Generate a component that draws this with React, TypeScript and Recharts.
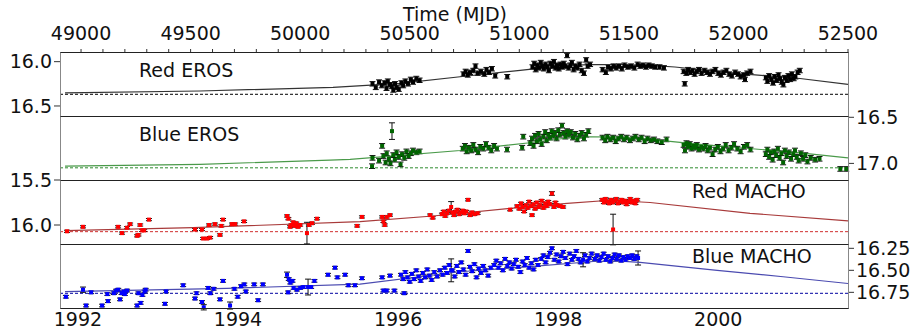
import React from "react";
import { ComposedChart, Scatter, XAxis, YAxis, ReferenceLine, ErrorBar } from "recharts";

// [MJD, magnitude, error?]  error falls back to the series default
type Obs = [number, number, number?];

const MJD_DOMAIN: [number, number] = [48904, 52500];
const MJD_MAJOR = [49000, 49500, 50000, 50500, 51000, 51500, 52000, 52500];
const YEAR_TICKS = [1992, 1994, 1996, 1998, 2000];
const YEAR_1992_MJD = 48986; // where 1992 sits on the lower axis

const RED_EROS: Obs[] = [
  [50330, 16.25], [50345, 16.29], [50360, 16.23], [50372, 16.27], [50385, 16.24], [50394, 16.3],
  [50400, 16.22], [50410, 16.26], [50418, 16.28], [50425, 16.32], [50433, 16.25], [50440, 16.29],
  [50450, 16.31], [50462, 16.24], [50470, 16.27], [50480, 16.22], [50492, 16.25], [50505, 16.2],
  [50515, 16.23], [50530, 16.19], [50545, 16.21],
  [50745, 16.14], [50755, 16.11], [50765, 16.15], [50775, 16.12], [50790, 16.1], [50800, 16.05],
  [50810, 16.13], [50825, 16.11], [50840, 16.14], [50850, 16.09], [50862, 16.12], [50875, 16.08],
  [50890, 16.16], [50945, 16.17],
  [51060, 16.06], [51068, 16.02], [51075, 16.09], [51082, 16.04], [51090, 16.07], [51098, 16.01],
  [51105, 16.05], [51112, 16.08], [51120, 16.03], [51128, 16.06], [51135, 16.1], [51142, 16.02],
  [51150, 16.05], [51158, 16.0], [51165, 16.07], [51172, 16.04], [51180, 16.08], [51188, 16.03],
  [51195, 16.06], [51203, 16.02], [51210, 16.05], [51218, 15.93], [51225, 16.07], [51233, 16.04],
  [51240, 16.01], [51248, 16.09], [51256, 16.05], [51265, 16.07], [51275, 16.03], [51285, 16.1],
  [51295, 16.13], [51305, 15.98], [51312, 16.05], [51323, 16.03],
  [51380, 16.09], [51395, 16.12], [51405, 16.06], [51418, 16.08], [51430, 16.05], [51442, 16.07],
  [51455, 16.05], [51468, 16.08], [51480, 16.04], [51495, 16.06], [51510, 16.05], [51525, 16.07],
  [51540, 16.03], [51552, 16.05], [51565, 16.04], [51578, 16.06], [51590, 16.04], [51605, 16.05],
  [51620, 16.06], [51640, 16.06], [51660, 16.07],
  [51750, 16.11], [51755, 16.25], [51762, 16.13], [51770, 16.09], [51780, 16.12], [51790, 16.1],
  [51800, 16.14], [51810, 16.11], [51820, 16.09], [51832, 16.13], [51845, 16.1], [51857, 16.12],
  [51870, 16.14], [51882, 16.11], [51895, 16.09], [51908, 16.13], [51920, 16.15], [51932, 16.12],
  [51945, 16.1], [51958, 16.14], [51970, 16.16], [51985, 16.12], [51998, 16.14], [52010, 16.17],
  [52025, 16.15], [52030, 16.2], [52040, 16.13], [52055, 16.11],
  [52125, 16.18], [52132, 16.22], [52140, 16.16], [52150, 16.2], [52158, 16.24], [52165, 16.17],
  [52175, 16.21], [52183, 16.15], [52190, 16.19], [52198, 16.23], [52205, 16.26], [52212, 16.18],
  [52220, 16.21], [52228, 16.16], [52236, 16.2], [52244, 16.14], [52252, 16.19], [52260, 16.17],
  [52270, 16.12], [52280, 16.1],
];

const BLUE_EROS: Obs[] = [
  [50330, 16.94], [50328, 17.03], [50374, 16.81], [50360, 16.97], [50380, 16.92], [50390, 16.99],
  [50395, 16.89], [50405, 16.95], [50412, 17.0], [50419, 16.65, 0.09], [50425, 16.91], [50432, 16.96],
  [50440, 16.88], [50450, 16.93], [50458, 17.01], [50465, 16.9], [50475, 16.94], [50485, 16.87],
  [50495, 16.92], [50505, 16.89], [50515, 16.86], [50530, 16.88], [50545, 16.87],
  [50742, 16.84], [50752, 16.81], [50760, 16.87], [50770, 16.83], [50780, 16.86], [50790, 16.8],
  [50800, 16.85], [50812, 16.88], [50822, 16.82], [50835, 16.84], [50848, 16.79], [50860, 16.83],
  [50872, 16.86], [50885, 16.81], [50898, 16.84], [50944, 16.85], [51013, 16.83], [51018, 16.71],
  [51050, 16.78], [51058, 16.73], [51065, 16.81], [51072, 16.7], [51080, 16.76], [51088, 16.68],
  [51095, 16.74], [51102, 16.79], [51110, 16.71], [51118, 16.66], [51125, 16.75], [51132, 16.69],
  [51140, 16.72], [51148, 16.65], [51155, 16.7], [51162, 16.67], [51170, 16.73], [51178, 16.64],
  [51185, 16.69], [51195, 16.59], [51202, 16.67], [51210, 16.71], [51218, 16.65], [51226, 16.69],
  [51235, 16.66], [51245, 16.72], [51255, 16.68], [51265, 16.74], [51275, 16.7], [51285, 16.67],
  [51295, 16.73], [51305, 16.69], [51315, 16.65],
  [51380, 16.72], [51392, 16.75], [51402, 16.71], [51415, 16.74], [51428, 16.72], [51440, 16.76],
  [51452, 16.73], [51465, 16.71], [51478, 16.74], [51490, 16.72], [51505, 16.75], [51518, 16.73],
  [51530, 16.71], [51545, 16.74], [51558, 16.72], [51572, 16.76], [51585, 16.73], [51600, 16.75],
  [51615, 16.74], [51630, 16.76], [51650, 16.77], [51672, 16.74],
  [51750, 16.8], [51756, 16.86], [51763, 16.78], [51770, 16.82], [51778, 16.79], [51786, 16.84],
  [51794, 16.81], [51802, 16.83], [51810, 16.8], [51820, 16.85], [51830, 16.82], [51840, 16.84],
  [51850, 16.81], [51860, 16.86], [51870, 16.83], [51882, 16.9], [51894, 16.85], [51906, 16.82],
  [51918, 16.87], [51930, 16.84], [51942, 16.8], [51955, 16.86], [51968, 16.83], [51980, 16.79],
  [51995, 16.84], [52010, 16.87], [52025, 16.82], [52040, 16.8], [52055, 16.85],
  [52125, 16.9], [52132, 16.85], [52140, 16.93], [52148, 16.88], [52156, 16.96], [52164, 16.87],
  [52172, 16.91], [52180, 16.84], [52188, 16.94], [52196, 16.89], [52204, 16.99], [52212, 16.86],
  [52220, 16.92], [52230, 16.88], [52240, 16.95], [52250, 16.9], [52258, 16.86], [52266, 16.93],
  [52275, 16.97], [52285, 16.89], [52295, 16.95], [52305, 16.91], [52315, 16.98], [52330, 16.94],
  [52350, 16.96], [52370, 16.95], [52465, 17.06], [52492, 17.06],
];

const RED_MACHO: Obs[] = [
  [48936, 16.07], [49009, 16.02], [49169, 16.02], [49187, 16.09], [49210, 16.03], [49224, 15.99],
  [49256, 16.12], [49262, 16.11], [49270, 16.0], [49279, 16.06], [49288, 16.06], [49310, 15.94],
  [49520, 16.05], [49552, 16.05], [49557, 16.15], [49575, 16.15], [49589, 16.14], [49584, 16.0],
  [49611, 15.99], [49634, 16.11], [49648, 15.94], [49640, 16.01], [49689, 15.99], [49703, 15.99],
  [49744, 15.96], [49940, 15.9], [49946, 15.93], [49954, 16.02], [49960, 16.0], [49968, 15.97],
  [49975, 16.01], [49982, 15.98], [49990, 16.02], [50000, 16.0], [50031, 16.09, 0.12], [50040, 16.0],
  [50054, 15.98], [50077, 15.93], [50260, 16.01], [50282, 15.91], [50374, 15.91], [50380, 15.96],
  [50386, 16.0], [50395, 15.91], [50410, 15.89],
  [50593, 15.89], [50605, 15.92], [50647, 15.88], [50655, 15.85], [50662, 15.9], [50670, 15.87],
  [50678, 15.84], [50689, 15.8, 0.06], [50695, 15.86], [50702, 15.89], [50710, 15.85], [50718, 15.83],
  [50726, 15.88], [50735, 15.86], [50742, 15.84], [50750, 15.87], [50758, 15.85], [50766, 15.72],
  [50775, 15.89], [50785, 15.86], [50795, 15.88], [50810, 15.87],
  [50958, 15.83], [50990, 15.79], [51000, 15.82], [51008, 15.76], [51015, 15.8], [51022, 15.85],
  [51030, 15.78], [51038, 15.81], [51045, 15.74], [51052, 15.79], [51058, 15.89], [51065, 15.77],
  [51072, 15.82], [51080, 15.75], [51088, 15.8], [51095, 15.78], [51102, 15.73], [51110, 15.81],
  [51118, 15.76], [51125, 15.79], [51132, 15.74], [51140, 15.77], [51149, 15.65, 0.02], [51158, 15.8],
  [51165, 15.75], [51172, 15.78], [51186, 15.79], [51200, 15.8],
  [51378, 15.72], [51386, 15.75], [51394, 15.71], [51402, 15.74], [51410, 15.76], [51418, 15.72],
  [51426, 15.75], [51434, 15.73], [51442, 15.71], [51450, 15.76], [51458, 15.74], [51466, 15.72],
  [51474, 15.75], [51482, 15.73], [51490, 15.77], [51498, 15.74], [51506, 15.71], [51514, 15.75],
  [51522, 15.73], [51530, 15.76], [51538, 15.72], [51428, 16.05, 0.17],
];

const BLUE_MACHO: Obs[] = [
  [48931, 16.8], [49009, 16.72, 0.03], [49023, 16.9], [49046, 16.75], [49096, 16.9], [49123, 16.85],
  [49120, 16.77], [49150, 16.76], [49160, 16.73], [49170, 16.72], [49178, 16.83], [49185, 16.76],
  [49195, 16.74], [49200, 16.77], [49210, 16.73], [49256, 16.9], [49272, 16.87], [49262, 16.76],
  [49280, 16.78], [49290, 16.74], [49295, 16.72], [49388, 16.74], [49383, 16.88], [49466, 16.67],
  [49520, 16.82], [49527, 16.76], [49552, 16.86], [49560, 16.92, 0.03], [49580, 16.7], [49590, 16.76],
  [49605, 16.71], [49634, 16.83], [49648, 16.62], [49680, 16.9, 0.04], [49700, 16.71], [49715, 16.8],
  [49730, 16.68], [49745, 16.66], [49752, 16.74], [49808, 16.84], [49790, 16.66], [49830, 16.66],
  [49940, 16.55, 0.03], [49948, 16.6], [49955, 16.64], [49965, 16.62], [49970, 16.7], [49945, 16.75],
  [49985, 16.72], [50000, 16.7], [50015, 16.69], [50036, 16.69, 0.09], [50050, 16.69], [50065, 16.62],
  [50127, 16.55], [50159, 16.47], [50170, 16.58], [50205, 16.55], [50220, 16.67], [50250, 16.67],
  [50282, 16.59], [50374, 16.58], [50380, 16.73], [50395, 16.73], [50410, 16.56], [50430, 16.73],
  [50475, 16.76],
  [50460, 16.55], [50470, 16.6], [50480, 16.52], [50490, 16.58], [50500, 16.63], [50510, 16.54],
  [50520, 16.6], [50530, 16.5], [50540, 16.57], [50550, 16.62], [50560, 16.53], [50570, 16.58],
  [50580, 16.49], [50590, 16.56], [50600, 16.61], [50612, 16.52], [50625, 16.57], [50638, 16.5],
  [50650, 16.55], [50689, 16.5, 0.13], [50766, 16.28],
  [50660, 16.47], [50670, 16.53], [50680, 16.44], [50695, 16.5], [50705, 16.57], [50715, 16.45],
  [50725, 16.52], [50735, 16.41], [50745, 16.49], [50755, 16.55], [50775, 16.46], [50785, 16.51],
  [50795, 16.43], [50805, 16.58], [50815, 16.48], [50825, 16.53], [50835, 16.45], [50845, 16.5],
  [50858, 16.56], [50870, 16.47],
  [50885, 16.44], [50895, 16.39], [50905, 16.47], [50915, 16.42], [50925, 16.5], [50935, 16.37],
  [50945, 16.45], [50955, 16.41], [50965, 16.48], [50975, 16.43], [50985, 16.38], [50995, 16.46],
  [51005, 16.52], [51015, 16.4], [51025, 16.44], [51035, 16.36], [51045, 16.47], [51055, 16.42],
  [51065, 16.49], [51075, 16.38], [51085, 16.44],
  [51100, 16.37], [51110, 16.33], [51120, 16.41], [51130, 16.35], [51140, 16.3], [51149, 16.25],
  [51160, 16.38], [51170, 16.32], [51180, 16.4], [51190, 16.34], [51200, 16.29], [51210, 16.36],
  [51220, 16.43], [51230, 16.31], [51240, 16.38], [51250, 16.34], [51260, 16.28], [51270, 16.37],
  [51280, 16.41], [51291, 16.38, 0.08], [51300, 16.33], [51310, 16.4], [51320, 16.36], [51330, 16.31],
  [51345, 16.37], [51355, 16.33], [51365, 16.39], [51375, 16.35], [51385, 16.31], [51395, 16.38],
  [51405, 16.34], [51415, 16.4], [51425, 16.36], [51435, 16.32], [51445, 16.37], [51455, 16.33],
  [51465, 16.39], [51475, 16.35], [51485, 16.38], [51495, 16.34], [51505, 16.36], [51515, 16.33],
  [51525, 16.37], [51535, 16.34], [51542, 16.36, 0.08],
];

// fitted light curves: [MJD, magnitude]
const FIT_RED_EROS: [number, number][] = [
  [48927, 16.352], [49543, 16.331], [50150, 16.29], [50456, 16.245], [50730, 16.17], [51004, 16.098],
  [51200, 16.045], [51323, 16.034], [51460, 16.032], [51597, 16.041], [51710, 16.06], [52008, 16.136],
  [52281, 16.19], [52500, 16.256],
];
const FIT_BLUE_EROS: [number, number][] = [
  [48927, 17.029], [49543, 17.01], [50136, 16.964], [50228, 16.957], [50730, 16.86], [51049, 16.776],
  [51200, 16.73], [51323, 16.711], [51460, 16.715], [51597, 16.739], [51825, 16.794], [52008, 16.83],
  [52281, 16.885], [52500, 16.94],
];
const FIT_RED_MACHO: [number, number][] = [
  [48927, 16.063], [49511, 16.03], [50273, 15.963], [50606, 15.9], [50958, 15.815], [51218, 15.76],
  [51414, 15.725], [51597, 15.75], [52053, 15.87], [52500, 15.955],
];
const FIT_BLUE_MACHO: [number, number][] = [
  [48927, 16.743], [49666, 16.705], [50273, 16.656], [50730, 16.516], [51035, 16.46], [51337, 16.4],
  [51460, 16.395], [51551, 16.41], [51903, 16.5], [52204, 16.573], [52500, 16.65],
];

const FONT = "'DejaVu Sans', sans-serif";
const W = 914;
const PLOT_L = 60;
const PLOT_R = 848;
const PAD = 12; // spare room so edge tick labels are not cut off

type PanelProps = {
  top: number;
  obs: Obs[];
  fit: [number, number][];
  baseline: number;
  defaultErr: number;
  domain: [number, number];
  ticks: number[];
  digits: number;
  side: "left" | "right";
  dot: string;
  fitColor: string;
  dashColor: string;
  xAxis: "top" | "bottom" | "none";
};

function Panel(p: PanelProps) {
  const pts = p.obs.map(([x, y, e]) => ({ x, y, err: e ?? p.defaultErr }));
  const fit = p.fit.map(([x, y]) => ({ x, y }));
  const minor: number[] = [];
  for (let m = 49000; m <= 52500; m += 100) minor.push(m);
  const yearTicks = YEAR_TICKS.map((y) => YEAR_1992_MJD + (y - 1992) * 365.25);

  let marginTop = PAD;
  let marginBottom = PAD;
  let height = 64 + 2 * PAD;
  let top = p.top - PAD;
  if (p.xAxis === "top") {
    marginTop = 0;
    height = 52 + 64 + PAD;
    top = p.top - 52;
  } else if (p.xAxis === "bottom") {
    marginBottom = 0;
    height = PAD + 64 + 23;
  }

  const square = (s: any) => (
    <rect x={s.cx - 2} y={s.cy - 2} width={4} height={4} fill={p.dot} />
  );

  return (
    <div style={{ position: "absolute", left: 0, top }}>
      <ComposedChart
        width={W}
        height={height}
        margin={{
          top: marginTop,
          bottom: marginBottom,
          left: p.side === "left" ? 0 : PLOT_L,
          right: p.side === "right" ? 0 : W - PLOT_R,
        }}
      >
        {p.xAxis === "top" && (
          <XAxis
            dataKey="x"
            type="number"
            orientation="top"
            height={52}
            domain={MJD_DOMAIN}
            allowDataOverflow
            ticks={minor}
            interval={0}
            tickFormatter={(v: number) => (MJD_MAJOR.includes(v) ? String(v) : "")}
            axisLine={false}
            tickSize={3}
            tickMargin={9}
            tickLine={{ stroke: "#333" }}
            tick={{ fontSize: 19, fill: "#111", fontFamily: FONT }}
          />
        )}
        {p.xAxis === "bottom" && (
          <XAxis
            dataKey="x"
            type="number"
            orientation="bottom"
            height={23}
            domain={MJD_DOMAIN}
            allowDataOverflow
            ticks={yearTicks}
            interval={0}
            tickFormatter={(v: number) => String(YEAR_TICKS[yearTicks.indexOf(v)])}
            axisLine={false}
            tickLine={false}
            tickSize={0}
            tickMargin={5}
            tick={{ fontSize: 19, fill: "#111", fontFamily: FONT }}
          />
        )}
        {p.xAxis === "none" && (
          <XAxis dataKey="x" type="number" domain={MJD_DOMAIN} allowDataOverflow hide height={0} />
        )}
        <YAxis
          dataKey="y"
          type="number"
          orientation={p.side}
          width={p.side === "left" ? PLOT_L : W - PLOT_R}
          domain={p.domain}
          reversed
          allowDataOverflow
          ticks={p.ticks}
          interval={0}
          tickFormatter={(v: number) => v.toFixed(p.digits)}
          axisLine={false}
          tickSize={6}
          tickMargin={2}
          tickLine={{ stroke: "#333" }}
          tick={{ fontSize: 19, fill: "#111", fontFamily: FONT }}
        />
        <ReferenceLine y={p.baseline} stroke={p.dashColor} strokeDasharray="3 2" strokeWidth={1} />
        <Scatter
          data={fit}
          line={{ stroke: p.fitColor, strokeWidth: 1.2 }}
          shape={() => <g />}
          isAnimationActive={false}
        />
        <Scatter data={pts} shape={square} isAnimationActive={false}>
          <ErrorBar dataKey="err" direction="y" width={3} stroke="#111" strokeWidth={1} />
        </Scatter>
      </ComposedChart>
    </div>
  );
}

function Frame({ top }: { top: number }) {
  return (
    <div
      style={{
        position: "absolute",
        left: PLOT_L,
        top,
        width: PLOT_R - PLOT_L + 1,
        height: 65,
        boxSizing: "border-box",
        borderTop: "1px solid #222",
        borderBottom: "1px solid #222",
        borderLeft: "1px solid #888",
        borderRight: "1px solid #888",
        pointerEvents: "none",
      }}
    />
  );
}

const txt = (left: number, centerY: number, size = 19): React.CSSProperties => ({
  position: "absolute",
  left,
  top: centerY - size * 0.48,
  fontSize: size,
  lineHeight: `${size}px`,
  fontFamily: FONT,
  color: "#111",
  whiteSpace: "nowrap",
});

export default function App() {
  return (
    <div style={{ position: "absolute", left: 0, top: 0, width: W, height: 331, background: "#fff", overflow: "hidden" }}>
      <Panel
        top={52}
        obs={RED_EROS}
        fit={FIT_RED_EROS}
        baseline={16.368}
        defaultErr={0.025}
        domain={[15.891, 16.613]}
        ticks={[16.0, 16.5]}
        digits={1}
        side="left"
        dot="#000"
        fitColor="#333"
        dashColor="#000"
        xAxis="top"
      />
      <Panel
        top={116}
        obs={BLUE_EROS}
        fit={FIT_BLUE_EROS}
        baseline={17.048}
        defaultErr={0.025}
        domain={[16.486, 17.18]}
        ticks={[16.5, 17.0]}
        digits={1}
        side="right"
        dot="#006400"
        fitColor="#4a9a4a"
        dashColor="#2e8b2e"
        xAxis="none"
      />
      <Panel
        top={180}
        obs={RED_MACHO}
        fit={FIT_RED_MACHO}
        baseline={16.074}
        defaultErr={0.012}
        domain={[15.5, 16.211]}
        ticks={[15.5, 16.0]}
        digits={1}
        side="left"
        dot="#ff0000"
        fitColor="#a83a3a"
        dashColor="#d03030"
        xAxis="none"
      />
      <Panel
        top={244}
        obs={BLUE_MACHO}
        fit={FIT_BLUE_MACHO}
        baseline={16.761}
        defaultErr={0.015}
        domain={[16.201, 16.928]}
        ticks={[16.25, 16.5, 16.75]}
        digits={2}
        side="right"
        dot="#0000ff"
        fitColor="#4a4ab0"
        dashColor="#0000a0"
        xAxis="bottom"
      />
      <Frame top={52} />
      <Frame top={116} />
      <Frame top={180} />
      <Frame top={244} />
      <div style={{ ...txt(0, 14.5), width: 910, textAlign: "center", left: 0 }}>Time (MJD)</div>
      <div style={txt(139, 70)}>Red EROS</div>
      <div style={txt(139, 134)}>Blue EROS</div>
      <div style={txt(692, 191)}>Red MACHO</div>
      <div style={txt(692, 256)}>Blue MACHO</div>
    </div>
  );
}
